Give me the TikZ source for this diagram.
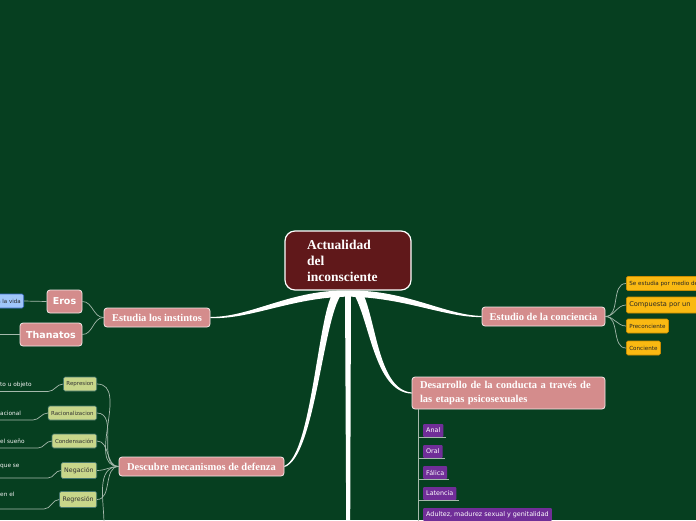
\documentclass[tikz,border=0pt]{standalone}
\usepackage{fontspec}
\setmainfont{Liberation Serif}
\setsansfont{DejaVu Sans}
\usetikzlibrary{calc,positioning}

\definecolor{bggreen}{RGB}{6,63,32}
\definecolor{rootred}{RGB}{96,24,26}
\definecolor{rosa}{RGB}{212,140,140}
\definecolor{linegray}{RGB}{165,185,172}
\definecolor{celeste}{RGB}{160,198,250}
\definecolor{celesteline}{RGB}{60,110,200}
\definecolor{amarillo}{RGB}{250,185,18}
\definecolor{amarilloline}{RGB}{205,140,0}
\definecolor{oliva}{RGB}{200,214,138}
\definecolor{olivaline}{RGB}{70,120,110}
\definecolor{morado}{RGB}{112,46,152}

\begin{document}
\begin{tikzpicture}[x=1pt, y=-1pt,
    central/.style={draw=white, line width=1.2pt, fill=rootred, rounded corners=10pt,
      text=white, font=\bfseries\fontsize{13.5}{16}\selectfont, align=left,
      text width=82pt, inner xsep=22pt, minimum height=59pt},
    tema/.style={draw=white!80!rosa, line width=0.8pt, fill=rosa, rounded corners=3pt,
      text=white, font=\bfseries\fontsize{10.5}{13.5}\selectfont, minimum height=19pt, inner xsep=0pt},
    pulsion/.style={draw=white!80!rosa, line width=0.8pt, fill=rosa, rounded corners=3pt,
      text=white, font=\sffamily\bfseries\fontsize{9.5}{11}\selectfont, minimum height=23pt, inner xsep=0pt},
    vidabox/.style={draw=celesteline, line width=0.6pt, fill=celeste, rounded corners=1.5pt,
      font=\sffamily\fontsize{5.5}{6}\selectfont, text=black!85, minimum height=14pt, inner xsep=3pt, anchor=east},
    mecanismo/.style={draw=olivaline, line width=0.6pt, fill=oliva, rounded corners=1.5pt,
      font=\sffamily\fontsize{5.5}{6}\selectfont, text=black!80, minimum height=14pt, inner xsep=3pt, anchor=east},
    nota/.style={font=\sffamily\fontsize{5.8}{6.5}\selectfont, text=white!90!gray, inner sep=0pt, anchor=west},
    parte/.style={draw=amarilloline, line width=0.6pt, fill=amarillo, rounded corners=1.5pt,
      font=\sffamily\fontsize{5.6}{6.5}\selectfont, text=black!85, minimum height=14pt, inner xsep=3pt, anchor=west},
    etapa/.style={fill=morado, rounded corners=1pt, font=\sffamily\fontsize{6.4}{7}\selectfont,
      text=white, minimum height=13pt, inner xsep=3pt, anchor=west},
    conn/.style={draw=linegray, line width=0.7pt},
    rama/.style={fill=white}
  ]
  \useasboundingbox[fill=bggreen] (0,0) rectangle (696,520);

  % Central topic and main topics
  \node[central] (root) at (348,260.5) {Actualidad\\del\\inconsciente};
  \node[tema, minimum width=106pt] (instintos) at (157,317.5) {Estudia los instintos};
  \node[tema, minimum width=123pt] (conciencia) at (543.5,316.5) {Estudio de la conciencia};
  \node[tema, minimum width=165pt] (defensa) at (201.5,466.5) {Descubre mecanismos de defenza};
  \node[tema, text width=177pt, inner xsep=8pt, align=left, minimum height=32pt] (desarrollo)
    at (508.5,393) {Desarrollo de la conducta a través de\\las etapas psicosexuales};

  % Tapered main branches
  \fill[rama] ($(root.south)+(-3,0)$) .. controls (290,290) and (250,317.4) .. ($(instintos.east)+(0,-0.6)$)
    -- ($(instintos.east)+(0,0.6)$) .. controls (252,319.5) and (292,297) .. ($(root.south)+(2,6)$) -- cycle;
  \fill[rama] ($(root.south)+(3,0)$) .. controls (406,290) and (446,315.4) .. ($(conciencia.west)+(0,-0.6)$)
    -- ($(conciencia.west)+(0,0.6)$) .. controls (444,317.5) and (404,297) .. ($(root.south)+(-2,6)$) -- cycle;
  \fill[rama] ($(root.south)+(-14,1)$) .. controls (318,310) and (312,455) .. ($(defensa.east)+(0,-0.6)$)
    -- ($(defensa.east)+(0,0.6)$) .. controls (316,457) and (323,312) .. ($(root.south)+(-5,2)$) -- cycle;
  \fill[rama] ($(root.south)+(14,1)$) .. controls (376,318) and (378,390) .. ($(desarrollo.west)+(0,-0.6)$)
    -- ($(desarrollo.west)+(0,0.6)$) .. controls (374,392) and (370,320) .. ($(root.south)+(5,2)$) -- cycle;
  \fill[rama] ($(root.south)+(-3,0)$) -- ($(root.south)+(3,0)$) -- (350.2,522) -- (346.2,522) -- cycle;

  % Instintos
  \node[pulsion, minimum width=35pt] (eros) at (64.5,301.5) {Eros};
  \node[pulsion, minimum width=62pt] (thanatos) at (51,334.5) {Thanatos};
  \node[vidabox] (vida) at (24,301) {a la vida};
  \coordinate (thanatos-l) at (-2,334.5);
  \draw[conn] (instintos.west) to[out=180,in=0] (eros.east);
  \draw[conn] (instintos.west) to[out=180,in=0] (thanatos.east);
  \draw[conn] (vida.east) -- (eros.west);
  \draw[conn] (thanatos-l) -- (thanatos.west);

  % Conciencia
  \node[parte, text width=75pt, align=left] (medio) at (626,283.5) {Se estudia por medio de};
  \node[parte, text width=75pt, align=left, font=\sffamily\fontsize{6.6}{7.5}\selectfont, minimum height=16pt]
    (compuesta) at (626,305) {Compuesta por un};
  \node[parte] (precon) at (626,326) {Preconciente};
  \node[parte] (concien) at (626,348) {Conciente};
  \foreach \p in {medio,compuesta,precon,concien}
    \draw[conn] (conciencia.east) to[out=0,in=180] (\p.west);

  % Mecanismos de defensa
  \node[mecanismo] (represion) at (97,384) {Represion};
  \node[mecanismo] (racional) at (97,413) {Racionalizacion};
  \node[mecanismo] (condensa) at (97,441) {Condensación};
  \node[mecanismo, font=\sffamily\fontsize{6.3}{7}\selectfont, minimum height=16pt] (negacion) at (97,470.5) {Negación};
  \node[mecanismo, font=\sffamily\fontsize{6.3}{7}\selectfont, minimum height=16pt] (regresion) at (97,499.5) {Regresión};
  \coordinate (defensa-mas) at (104,524);
  \foreach \m in {represion,racional,condensa,negacion,regresion}
    \draw[conn] (defensa.west) to[out=180,in=0] (\m.east);
  \draw[conn] (defensa.west) to[out=180,in=90] (defensa-mas);

  \node[nota] (represion-t) at (0,385) {to u objeto};
  \node[nota] (racional-t) at (0,413) {acional};
  \node[nota] (condensa-t) at (0,441.5) {el sueño};
  \node[nota] (negacion-t) at (0,466) {que se};
  \node[nota] (regresion-t) at (0,494) {en el};
  \coordinate (represion-u) at (-2,391.5);
  \coordinate (racional-u) at (-2,420);
  \coordinate (condensa-u) at (-2,448);
  \coordinate (negacion-u) at (-2,478);
  \coordinate (regresion-u) at (-2,509);
  \draw[conn] (represion-u) -- (48,391.5) to[out=0,in=180] (represion.west);
  \draw[conn] (racional-u) -- (33,420) to[out=0,in=180] (racional.west);
  \draw[conn] (condensa-u) -- (38,448) to[out=0,in=180] (condensa.west);
  \draw[conn] (negacion-u) -- (48,478) to[out=0,in=180] (negacion.west);
  \draw[conn] (regresion-u) -- (44,509) to[out=0,in=180] (regresion.west);

  % Etapas psicosexuales
  \node[etapa] (anal) at (423,430.5) {Anal};
  \node[etapa] (oral) at (423,451.5) {Oral};
  \node[etapa] (falica) at (423,472.5) {Fálica};
  \node[etapa] (latencia) at (423,493.5) {Latencia};
  \node[etapa] (adultez) at (423,514.5) {Adultez, madurez sexual y genitalidad};
  \coordinate (tronco) at ($(desarrollo.south west)+(7,0)$);
  \foreach \e in {anal,oral,falica,latencia,adultez}
    \draw[conn] (tronco) |- ($(\e.south east)+(2,0)$);
\end{tikzpicture}
\end{document}
